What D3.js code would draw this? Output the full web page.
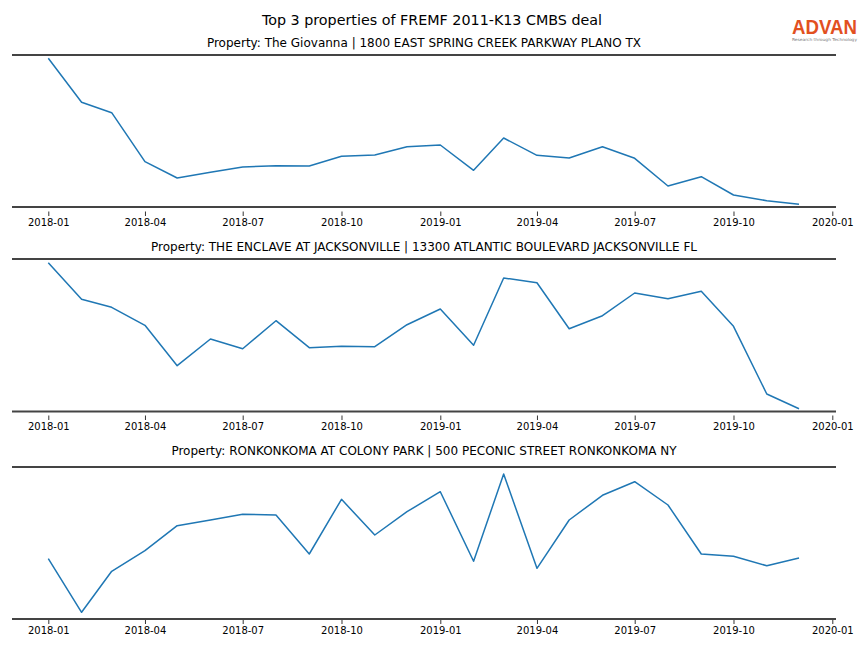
<!DOCTYPE html>
<html>
<head>
<meta charset="utf-8">
<script src="https://cdn.jsdelivr.net/npm/d3@7"></script>
<style>
  html, body { margin: 0; padding: 0; background: #fff; }
  svg { display: block; }
</style>
</head>
<body>
<svg id="chart" width="864" height="648"></svg>
<script>
// ---- data (relative monthly values) ----
const months = ["2018-01","2018-02","2018-03","2018-04","2018-05","2018-06","2018-07","2018-08","2018-09","2018-10","2018-11","2018-12",
                "2019-01","2019-02","2019-03","2019-04","2019-05","2019-06","2019-07","2019-08","2019-09","2019-10","2019-11","2019-12"];
const tickLabels = ["2018-01","2018-04","2018-07","2018-10","2019-01","2019-04","2019-07","2019-10","2020-01"];
const titles = [
  "Property: The Giovanna | 1800 EAST SPRING CREEK PARKWAY PLANO TX",
  "Property: THE ENCLAVE AT JACKSONVILLE | 13300 ATLANTIC BOULEVARD JACKSONVILLE FL",
  "Property: RONKONKOMA AT COLONY PARK | 500 PECONIC STREET RONKONKOMA NY"
];
const giovanna = [148.7,104.7,94.3,45.3,29.0,34.7,40.0,41.3,41.0,50.7,52.0,60.3,
                  62.0,36.7,69.0,51.7,49.0,60.3,48.7,21.0,30.3,12.0,6.3,2.7];
const enclave  = [148.3,111.7,103.7,85.7,45.3,72.0,62.3,90.3,63.3,64.7,64.3,86.3,
                  102.0,65.7,133.0,128.3,82.3,95.3,118.0,112.3,119.7,84.7,17.0,2.3];
const ronkonkoma = [60.3,6.7,47.7,68.3,93.3,99.0,104.7,104.0,65.0,119.7,84.0,107.3,
                    127.3,57.7,145.0,50.7,99.0,123.7,137.3,114.0,65.0,62.7,53.3,61.0];
const seriesList = [giovanna, enclave, ronkonkoma];
const mainTitle = "Top 3 properties of FREMF 2011-K13 CMBS deal";

// ---- layout ----
const svg = d3.select("#chart");
const parse = d3.timeParse("%Y-%m");
const dates = months.map(parse);
const x = d3.scaleTime()
  .domain([parse("2018-01"), parse("2020-01")])
  .range([48.3, 832.3]);
const left = 12, right = 836;
const spineTops = [55, 259, 467];
const spineBottoms = [207, 411.5, 619];
const axisYs = [211.5, 415.5, 619.5];
const subtitleYs = [46.5, 250.5, 454.5];

svg.append("text")
  .attr("x", 432).attr("y", 24.5)
  .attr("text-anchor", "middle")
  .attr("font-family", "DejaVu Sans")
  .attr("font-size", 14.3)
  .attr("fill", "#000")
  .text(mainTitle);

// logo
const logo = svg.append("g");
logo.append("text")
  .attr("x", 792).attr("y", 33.8)
  .attr("font-family", "Liberation Sans, Arial, sans-serif")
  .attr("font-size", 19.5)
  .attr("font-weight", 600)
  .attr("fill", "#e2501f")
  .attr("textLength", 65)
  .attr("lengthAdjust", "spacingAndGlyphs")
  .text("ADVAN");
logo.append("text")
  .attr("x", 792).attr("y", 40.5)
  .attr("font-family", "DejaVu Sans")
  .attr("font-size", 4)
  .attr("fill", "#777")
  .attr("textLength", 65)
  .attr("lengthAdjust", "spacingAndGlyphs")
  .text("Research through Technology");

seriesList.forEach((vals, i) => {
  const top = spineTops[i];
  const bottom = spineBottoms[i];
  const y = d3.scaleLinear().domain([0, 152]).range([top + 152, top]);
  const g = svg.append("g");

  // subtitle
  g.append("text")
    .attr("x", 424).attr("y", subtitleYs[i])
    .attr("text-anchor", "middle")
    .attr("font-family", "DejaVu Sans")
    .attr("font-size", 12)
    .attr("fill", "#000")
    .text(titles[i]);

  // x axis
  const axis = d3.axisBottom(x)
    .tickValues(tickLabels.map(parse))
    .tickFormat(d3.timeFormat("%Y-%m"))
    .tickSize(4.5)
    .tickPadding(2.5);
  const ax = g.append("g")
    .attr("transform", `translate(0,${axisYs[i]})`)
    .call(axis);
  ax.select(".domain").remove();
  ax.selectAll(".tick line").attr("stroke", "#000").attr("stroke-width", 0.8);
  ax.selectAll(".tick text")
    .attr("font-family", "DejaVu Sans")
    .attr("font-size", 10)
    .attr("fill", "#000");

  // line
  const line = d3.line()
    .x((d, j) => x(dates[j]))
    .y(d => y(d));
  g.append("path")
    .datum(vals)
    .attr("fill", "none")
    .attr("stroke", "#1f77b4")
    .attr("stroke-width", 1.5)
    .attr("stroke-linejoin", "round")
    .attr("d", line);

  // top & bottom rules
  [top, bottom].forEach(yy => {
    g.append("line")
      .attr("x1", left).attr("x2", right)
      .attr("y1", yy).attr("y2", yy)
      .attr("stroke", "#444")
      .attr("stroke-width", 1.8);
  });
});
</script>
</body>
</html>
